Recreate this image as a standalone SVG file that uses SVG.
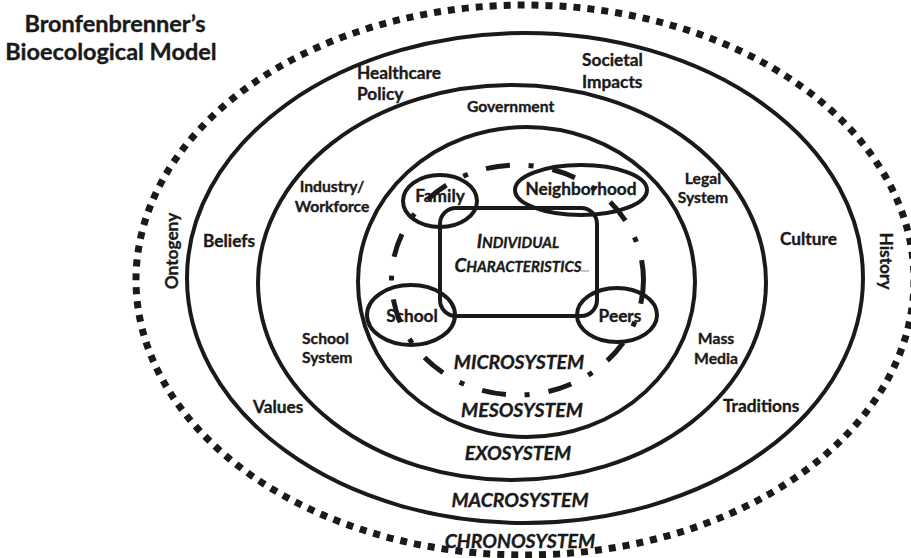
<svg xmlns="http://www.w3.org/2000/svg" width="911" height="558" viewBox="0 0 911 558">
<style>
.ring{fill:none;stroke:#1a1a1a;stroke-width:4}
.dots{fill:none;stroke:#1a1a1a;stroke-width:7;stroke-dasharray:7 7}
.micro{fill:none;stroke:#1a1a1a;stroke-width:5;stroke-dasharray:24 19 5 19}
.oval{fill:none;stroke:#1a1a1a;stroke-width:4}
text{font-family:Lato,"Open Sans","Liberation Sans",sans-serif;fill:#1a1a1a;stroke:#1a1a1a;stroke-width:0.35}
.lbl{font-size:17.3px;font-weight:bold}
.sm{font-size:15.7px}
.sys{font-size:19.5px;font-weight:bold;font-style:italic;text-anchor:middle}
.title{font-size:23.5px;font-weight:bold;text-anchor:middle}
.mid{text-anchor:middle}
</style>
<rect width="911" height="558" fill="#ffffff"/>
<g id="title">
<text class="title" x="115" y="32">Bronfenbrenner’s</text>
<text class="title" x="111" y="60">Bioecological Model</text>
</g>
<g id="chronosystem">
<ellipse class="dots" cx="525" cy="280" rx="389" ry="275"/>
<text class="lbl mid" transform="translate(178,251) rotate(-90)">Ontogeny</text>
<text class="lbl mid" transform="translate(880,261) rotate(90)">History</text>
<text class="sys" x="520" y="548">CHRONOSYSTEM</text>
</g>
<g id="macrosystem">
<ellipse class="ring" cx="525" cy="278" rx="338" ry="245"/>
<text class="lbl" x="357" y="79">Healthcare</text>
<text class="lbl" x="357" y="100">Policy</text>
<text class="lbl" x="582" y="66">Societal</text>
<text class="lbl" x="582" y="88">Impacts</text>
<text class="lbl" x="203" y="247">Beliefs</text>
<text class="lbl" x="780" y="245">Culture</text>
<text class="lbl" x="253" y="413">Values</text>
<text class="lbl" x="723" y="412">Traditions</text>
<text class="sys" x="520" y="507">MACROSYSTEM</text>
</g>
<g id="exosystem">
<ellipse class="ring" cx="512" cy="282.5" rx="254" ry="197.5"/>
<text class="lbl sm" x="467" y="112">Government</text>
<text class="lbl sm mid" x="332" y="192">Industry/</text>
<text class="lbl sm mid" x="332" y="212">Workforce</text>
<text class="lbl sm mid" x="703" y="184">Legal</text>
<text class="lbl sm mid" x="703" y="203">System</text>
<text class="lbl sm" x="302" y="344">School</text>
<text class="lbl sm" x="302" y="363">System</text>
<text class="lbl sm mid" x="716" y="344">Mass</text>
<text class="lbl sm mid" x="716" y="364">Media</text>
<text class="sys" x="518" y="460">EXOSYSTEM</text>
</g>
<g id="mesosystem">
<ellipse class="ring" cx="526.5" cy="282" rx="168.5" ry="155"/>
<text class="sys" x="522" y="417">MESOSYSTEM</text>
</g>
<g id="microsystem">
<ellipse class="micro" cx="517.5" cy="280" rx="126" ry="115"/>
<text class="sys" x="519" y="369">MICROSYSTEM</text>
</g>
<g id="individual">
<rect class="oval" x="440" y="208" width="157" height="108" rx="16"/>
<text class="mid" x="518" y="248" font-weight="bold" font-style="italic"><tspan font-size="19">I</tspan><tspan font-size="15">NDIVIDUAL</tspan></text>
<text class="mid" x="518" y="272" font-weight="bold" font-style="italic"><tspan font-size="19">C</tspan><tspan font-size="15">HARACTERISTICS</tspan></text>
<line x1="581" y1="271" x2="589" y2="271" stroke="#888" stroke-width="1"/>
</g>
<g id="family">
<ellipse class="oval" cx="440" cy="201" rx="37" ry="26"/>
<text class="lbl mid" x="440" y="202">Family</text>
</g>
<g id="neighborhood">
<ellipse class="oval" cx="581" cy="190" rx="66" ry="25"/>
<text class="lbl mid" x="581" y="195">Neighborhood</text>
</g>
<g id="school">
<ellipse class="oval" cx="411" cy="315" rx="44" ry="30"/>
<text class="lbl mid" x="412" y="322">School</text>
</g>
<g id="peers">
<ellipse class="oval" cx="617" cy="315" rx="40" ry="27"/>
<text class="lbl mid" x="620" y="322">Peers</text>
</g>
<g id="connectors"/>
</svg>
